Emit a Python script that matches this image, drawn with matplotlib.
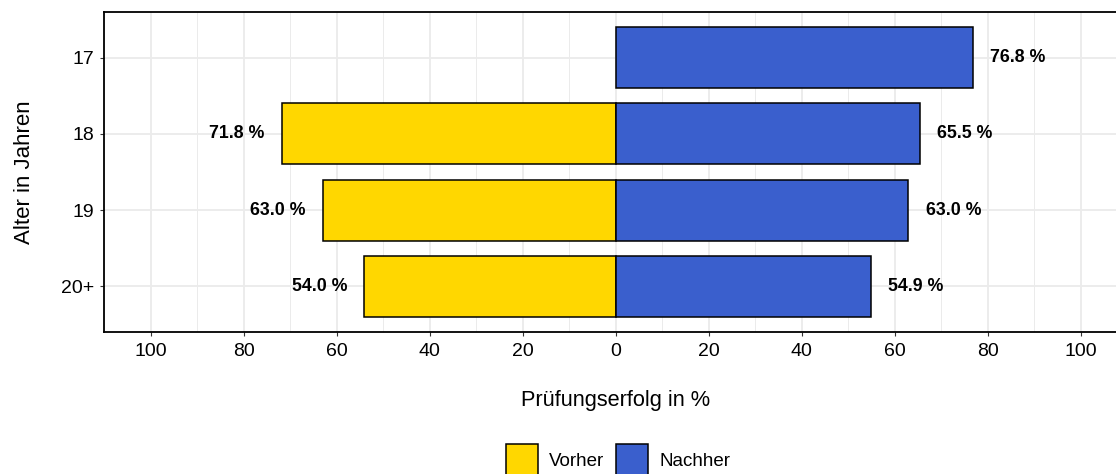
#!/usr/bin/env python

import numpy as np
import matplotlib.pyplot as plt
from matplotlib.patches import Patch

plt.rcParams['font.family'] = ['Liberation Sans', 'DejaVu Sans']

ages = ["17", "18", "19", "20+"]
vorher = [np.nan, 71.8, 63.0, 54.0]
nachher = [76.8, 65.5, 63.0, 54.9]
x_ticks = [-100, -80, -60, -40, -20, 0, 20, 40, 60, 80, 100]

col_vorher = "#FFD700"
col_nachher = "#3A5FCD"

fig = plt.figure(figsize=(11.16, 4.74), dpi=100)
# panel runs slightly past the right edge, as in the reference
ax = fig.add_axes([104 / 1116, 1 - 332 / 474, 1023 / 1116, 320 / 474])

y = np.arange(len(ages))
ax.barh(y, -np.array(vorher), height=0.8, color=col_vorher,
        edgecolor="black", linewidth=1.1, zorder=3)
ax.barh(y, nachher, height=0.8, color=col_nachher,
        edgecolor="black", linewidth=1.1, zorder=3)

# value labels
for i, v in enumerate(vorher):
    if not np.isnan(v):
        ax.text(-v - 9.7, i, f"{v:.1f} %", ha="center", va="center",
                fontsize=12.8, fontweight="bold", zorder=4)
for i, v in enumerate(nachher):
    ax.text(v + 9.7, i, f"{v:.1f} %", ha="center", va="center",
            fontsize=12.8, fontweight="bold", zorder=4)

ax.set_xlim(-110, 110)
ax.set_ylim(len(ages) - 0.4, -0.6)
ax.set_yticks(y)
ax.set_yticklabels(ages)
ax.set_xticks(x_ticks)
ax.set_xticklabels([str(abs(t)) for t in x_ticks])
ax.set_xticks(np.arange(-110, 111, 20), minor=True)

ax.grid(which="major", color="#EBEBEB", linewidth=1.3, zorder=0)
ax.grid(which="minor", axis="x", color="#EBEBEB", linewidth=0.7, zorder=0)
ax.set_axisbelow(True)

for side in ["top", "bottom", "left", "right"]:
    ax.spines[side].set_linewidth(1.3)
    ax.spines[side].set_color("black")

ax.tick_params(axis="both", which="major", labelsize=14, length=3,
               width=0.8, color="#333333", labelcolor="black")
ax.tick_params(axis="x", pad=5)
ax.tick_params(axis="y", pad=4)
ax.tick_params(which="minor", length=0)

ax.set_xlabel("Prüfungserfolg in %", fontsize=15.7)
ax.xaxis.set_label_coords(0.5, -0.182)
ax.set_ylabel("Alter in Jahren", fontsize=16)
ax.yaxis.set_label_coords(-0.067, 0.5)

# legend keys run past the bottom edge, as in the reference
handles = [Patch(facecolor=col_vorher, edgecolor="black", linewidth=1.1, label="Vorher"),
           Patch(facecolor=col_nachher, edgecolor="black", linewidth=1.1, label="Nachher")]
fig.legend(handles=handles, loc="upper center", ncol=2, frameon=False,
           bbox_to_anchor=(618 / 1116, 1 - 435 / 474), fontsize=13.5,
           handlelength=1.7, handleheight=2.25, handletextpad=0.6,
           columnspacing=0.65, borderpad=0)

fig.savefig("out.png", dpi=100)
